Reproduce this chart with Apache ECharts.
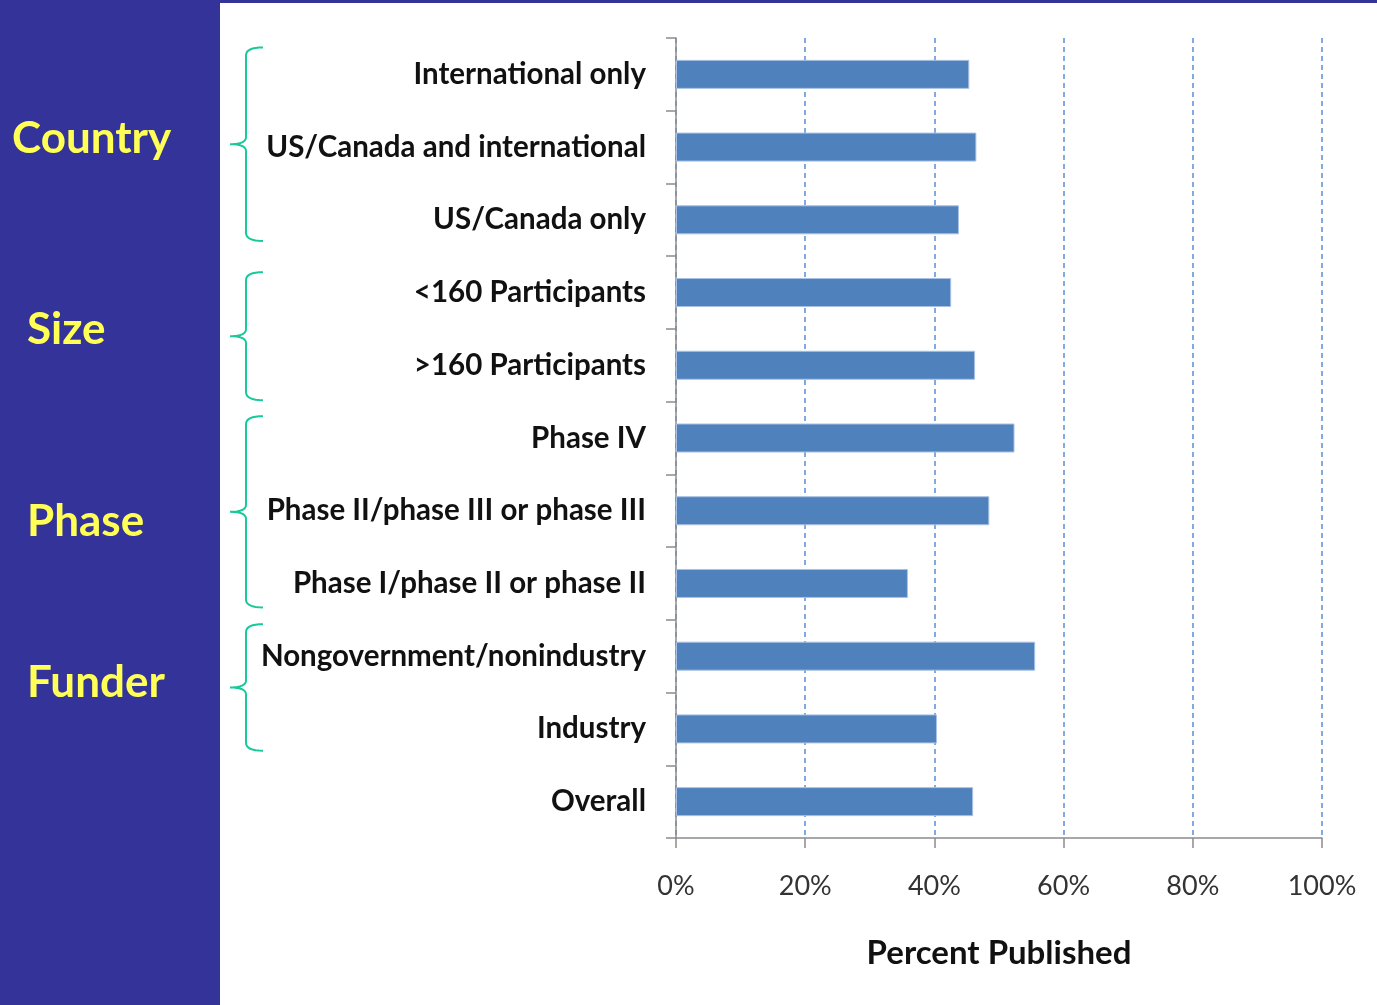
<!DOCTYPE html>
<html><head><meta charset="utf-8">
<script src="https://cdn.jsdelivr.net/npm/echarts@6/dist/echarts.min.js"></script>
<style>html,body{margin:0;padding:0;background:#fff}#c{width:1377px;height:1005px}</style>
</head><body><div id="c"></div>
<script>
const categories = ["International only","US/Canada and international","US/Canada only","<160 Participants",">160 Participants","Phase IV","Phase II/phase III or phase III","Phase I/phase II or phase II","Nongovernment/nonindustry","Industry","Overall"];
const values = [45.4, 46.5, 43.8, 42.6, 46.3, 52.4, 48.5, 35.9, 55.6, 40.4, 46.0];
const groupNames = ["Country","Size","Phase","Funder"];
const groupStart = [0, 3, 5, 8];
const groupEnd = [2, 4, 7, 9];
const xTicks = [0, 20, 40, 60, 80, 100];

// decoration styling (bracket extents in band fractions, label offsets in px)
const bracketTopPad = [0.37, 0.28, 0.30, 0.44];
const bracketBotPad = [0.29, 0.48, 0.33, 0.30];
const labelDy = [-5, -6, 10, -5];
const labelX = [12, 27, 27, 27];

const chart = echarts.init(document.getElementById('c'));
const option = {
  animation: false,
  backgroundColor: '#ffffff',
  grid: {left: 676, right: 55, top: 38, bottom: 167},
  xAxis: {
    type: 'value', min: xTicks[0], max: xTicks[xTicks.length-1], interval: 20,
    name: 'Percent Published', nameLocation: 'middle', nameGap: 99,
    nameTextStyle: {fontFamily: 'Lato', fontWeight: 'bold', fontSize: 33, color: '#111'},
    axisLine: {show: true, lineStyle: {color: '#8c8c8c', width: 1.5}},
    axisTick: {show: true, length: 10, lineStyle: {color: '#8c8c8c', width: 1.5}},
    axisLabel: {formatter: '{value}%', fontFamily: 'Lato', fontSize: 27, color: '#333', margin: 35},
    splitLine: {show: true, lineStyle: {color: '#5b8fd4', type: [5, 4], width: 1.5}}
  },
  yAxis: {
    type: 'category', data: categories, inverse: true,
    axisLine: {show: true, lineStyle: {color: '#8c8c8c', width: 1.5}},
    axisTick: {show: true, length: 10, lineStyle: {color: '#8c8c8c', width: 1.5}},
    axisLabel: {fontFamily: 'Lato', fontWeight: 'bold', fontSize: 29.5, color: '#111', margin: 30},
    splitLine: {show: false}
  },
  series: [{
    type: 'bar', data: values, barWidth: 29,
    itemStyle: {color: '#4f81bd', borderColor: '#a9c1e3', borderWidth: 1}
  }]
};
chart.setOption(option);

function quad(p0, p1, p2, n) {
  const pts = [];
  for (let k = 0; k <= n; k++) {
    const t = k / n, u = 1 - t;
    pts.push([u*u*p0[0] + 2*u*t*p1[0] + t*t*p2[0], u*u*p0[1] + 2*u*t*p1[1] + t*t*p2[1]]);
  }
  return pts;
}

const g = [
  {type: 'rect', shape: {x: 0, y: 0, width: 220, height: 1005}, style: {fill: '#333399'}, z: 10},
  {type: 'rect', shape: {x: 220, y: 0, width: 1157, height: 3}, style: {fill: '#333399'}, z: 10}
];
const band = chart.convertToPixel({yAxisIndex: 0}, categories[1]) - chart.convertToPixel({yAxisIndex: 0}, categories[0]);
for (let i = 0; i < groupNames.length; i++) {
  const top = chart.convertToPixel({yAxisIndex: 0}, categories[groupStart[i]]) - band * bracketTopPad[i];
  const bot = chart.convertToPixel({yAxisIndex: 0}, categories[groupEnd[i]]) + band * bracketBotPad[i];
  const mid = (top + bot) / 2;
  const xv = 246, xr = 263, xl = 230;
  let pts = [];
  pts = pts.concat(quad([xr, top], [xv, top], [xv, top + 8], 8));
  pts = pts.concat(quad([xv, mid - 7], [xv, mid], [xl, mid], 8));
  pts = pts.concat(quad([xl, mid], [xv, mid], [xv, mid + 7], 8));
  pts = pts.concat(quad([xv, bot - 8], [xv, bot], [xr, bot], 8));
  g.push({type: 'polyline', shape: {points: pts}, style: {fill: null, stroke: '#19c99a', lineWidth: 2}, z: 10});
  g.push({type: 'text', x: labelX[i], y: mid + labelDy[i], style: {text: groupNames[i], fill: '#ffff55', font: 'bold 44px Lato', textVerticalAlign: 'middle', textAlign: 'left'}, z: 11});
}
chart.setOption({graphic: g});
</script></body></html>
